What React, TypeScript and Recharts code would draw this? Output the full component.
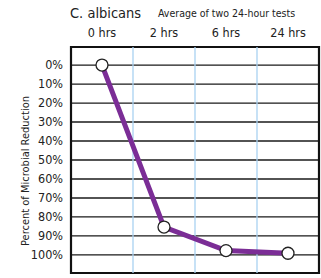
import React from 'react'
import { LineChart, Line, XAxis, YAxis, CartesianGrid, ReferenceLine, ReferenceArea, Label } from 'recharts'

const times = ['0 hrs', '2 hrs', '6 hrs', '24 hrs']
const reduction = [0, 85.3, 97.7, 99.1]
const yTicks = [0, 10, 20, 30, 40, 50, 60, 70, 80, 90, 100]
const columnEdges = [1, 2, 3]

const FONT = '"DejaVu Sans Condensed", "Liberation Sans Narrow", sans-serif'

const data = times.map((t, i) => ({ time: t, pos: i + 0.5, value: reduction[i] }))

const YLabel = (props: any) => {
  const vb = props.viewBox || {}
  const cx = 25
  const cy = vb.y + vb.height / 2 + 11
  return (
    <text
      x={cx}
      y={cy}
      transform={`rotate(-90, ${cx}, ${cy})`}
      textAnchor="middle"
      dominantBaseline="central"
      fontSize={11}
      fill="#222"
      style={{ fontFamily: FONT }}
    >
      Percent of Microbial Reduction
    </text>
  )
}

export default function App() {
  return (
    <div style={{ position: 'absolute', left: 0, top: 0, width: 321, height: 278, background: '#fff', fontFamily: FONT }}>
      <div style={{ position: 'absolute', left: 70, top: 3, fontSize: 14.5, color: '#222', lineHeight: '20px' }}>C. albicans</div>
      <div style={{ position: 'absolute', left: 158, top: 6, fontSize: 10.5, color: '#222', lineHeight: '15px' }}>Average of two 24-hour tests</div>
      <LineChart width={321} height={278} data={data} margin={{ top: 0, right: 2, bottom: 5, left: 0 }}>
        <CartesianGrid vertical={false} stroke="#1a1a1a" strokeWidth={1.3} />
        <XAxis
          dataKey="pos"
          type="number"
          orientation="top"
          domain={[0, 4]}
          ticks={data.map(d => d.pos)}
          tickFormatter={(v: number) => times[Math.floor(v)]}
          height={47}
          axisLine={false}
          tickLine={false}
          tickMargin={4}
          tick={{ fontSize: 12.5, fill: '#222', fontFamily: FONT }}
        />
        <YAxis
          type="number"
          reversed
          domain={[-9.5, 109.5]}
          ticks={yTicks}
          tickFormatter={(v: number) => `${v}%`}
          width={71}
          axisLine={false}
          tickLine={false}
          interval={0}
          tick={{ fontSize: 12.5, fill: '#222', fontFamily: FONT }}
        >
          <Label content={<YLabel />} />
        </YAxis>
        {columnEdges.map(x => (
          <ReferenceLine key={x} x={x} stroke="#a9d2f2" strokeWidth={1.3} />
        ))}
        <ReferenceArea x1={0} x2={4} y1={-9.5} y2={109.5} fill="none" stroke="#111" strokeWidth={2.2} />
        <Line
          dataKey="value"
          stroke="#7b2d96"
          strokeWidth={5}
          dot={{ r: 6, fill: '#fff', stroke: '#222', strokeWidth: 1.3 }}
          isAnimationActive={false}
        />
      </LineChart>
    </div>
  )
}
